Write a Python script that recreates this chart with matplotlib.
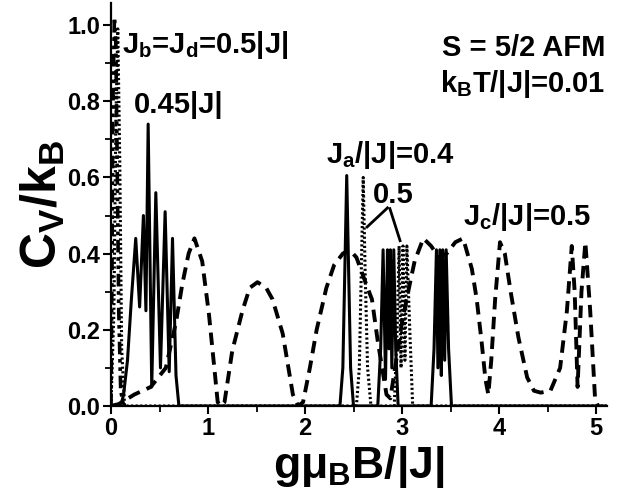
import matplotlib
matplotlib.use("Agg")
import matplotlib.pyplot as plt
from matplotlib.ticker import MultipleLocator, FormatStrFormatter

plt.rcParams['font.family'] = ['Liberation Sans', 'DejaVu Sans']
plt.rcParams['font.weight'] = 'bold'
plt.rcParams['mathtext.fontset'] = 'custom'
plt.rcParams['mathtext.rm'] = 'Liberation Sans:bold'
plt.rcParams['mathtext.it'] = 'Liberation Sans:bold'
plt.rcParams['mathtext.bf'] = 'Liberation Sans:bold'
plt.rcParams['mathtext.default'] = 'rm'

# ---- data ----
# solid: J_b=J_d=0.45|J| cluster and J_a/|J|=0.4 curve
solid_x = [0.00, 0.08, 0.11, 0.13, 0.17, 0.21, 0.255, 0.295, 0.334, 0.36, 0.383,
           0.42, 0.462, 0.51, 0.558, 0.60, 0.634, 0.67, 0.70,
           2.36, 2.39, 2.41, 2.43, 2.45, 2.47, 2.50,
           2.75, 2.78, 2.805, 2.83, 2.85, 2.865, 2.88, 2.895, 2.915, 2.935, 2.96,
           3.30, 3.33, 3.355, 3.37, 3.39, 3.405, 3.42, 3.44, 3.455, 3.48, 3.51, 5.11]
solid_y = [0.00, 0.00, 0.01, 0.03, 0.12, 0.28, 0.44, 0.26, 0.50, 0.25, 0.74,
           0.05, 0.56, 0.10, 0.51, 0.09, 0.44, 0.08, 0.00,
           0.00, 0.10, 0.35, 0.605, 0.35, 0.10, 0.00,
           0.00, 0.15, 0.41, 0.07, 0.41, 0.15, 0.41, 0.10, 0.41, 0.15, 0.00,
           0.00, 0.15, 0.41, 0.10, 0.41, 0.08, 0.41, 0.12, 0.41, 0.15, 0.00, 0.00]

# dotted: 0.5 curves
dot_x = [0.00, 0.03, 0.05, 0.07, 0.09, 0.11, 0.14,
         2.53, 2.56, 2.58, 2.60, 2.62, 2.645, 2.68,
         2.92, 2.95, 2.97, 2.99, 3.01, 3.03, 3.05, 3.08, 3.11, 5.11]
dot_y = [0.00, 0.25, 0.75, 0.99, 0.65, 0.15, 0.00,
         0.00, 0.10, 0.35, 0.60, 0.35, 0.10, 0.00,
         0.00, 0.20, 0.42, 0.10, 0.42, 0.12, 0.42, 0.20, 0.00, 0.00]

# dashed: J_c/|J|=0.5
dash_x = [0.00, 0.08, 0.24, 0.41, 0.565, 0.67, 0.735, 0.80, 0.86, 0.94, 1.01, 1.065, 1.10,
          1.13, 1.17, 1.25, 1.355, 1.43, 1.51, 1.60, 1.665, 1.77, 1.875, 1.93,
          1.98, 2.05, 2.12, 2.22, 2.30, 2.39, 2.46, 2.53, 2.63, 2.69, 2.75, 2.84, 2.88,
          2.94, 3.00, 3.08, 3.13, 3.22, 3.30, 3.38, 3.46, 3.55, 3.63, 3.72, 3.77, 3.82,
          3.86, 3.89, 3.92, 3.96, 4.01, 4.06, 4.12, 4.20, 4.29, 4.36, 4.43, 4.53, 4.63,
          4.70, 4.75, 4.78, 4.81, 4.85, 4.89, 4.94, 4.99, 5.02]
dash_y = [0.00, 0.005, 0.03, 0.05, 0.10, 0.22, 0.32, 0.40, 0.44, 0.38, 0.24, 0.10, 0.01,
          0.00, 0.01, 0.145, 0.25, 0.31, 0.325, 0.31, 0.28, 0.19, 0.03, 0.00,
          0.01, 0.10, 0.20, 0.31, 0.37, 0.40, 0.41, 0.39, 0.32, 0.28, 0.17, 0.03, 0.02,
          0.12, 0.22, 0.32, 0.38, 0.44, 0.42, 0.39, 0.40, 0.43, 0.44, 0.36, 0.28, 0.17,
          0.07, 0.03, 0.12, 0.28, 0.43, 0.40, 0.30, 0.18, 0.075, 0.04, 0.035, 0.04, 0.10,
          0.25, 0.42, 0.30, 0.05, 0.30, 0.43, 0.25, 0.02, 0.00]

# dash-dot: J_b=J_d=0.5|J|
dd_x = [0.00, 0.01, 0.02, 0.035, 0.05, 0.065, 0.08, 0.10, 0.13]
dd_y = [0.00, 0.35, 0.80, 1.02, 0.95, 0.60, 0.25, 0.04, 0.00]

x_ticks = [0, 1, 2, 3, 4, 5]
y_ticks = [0.0, 0.2, 0.4, 0.6, 0.8, 1.0]

fig = plt.figure(figsize=(6.30, 4.96), dpi=100)
ax = fig.add_axes([0.1762, 0.1815, 0.7868, 0.8125])

ax.plot(dash_x, dash_y, color='black', lw=2.8, linestyle=(0, (3.2, 1.9)))
ax.plot(dot_x, dot_y, color='black', lw=2.2, linestyle=(0, (0.7, 0.8)))
ax.plot(solid_x, solid_y, color='black', lw=2.2, linestyle='-')
ax.plot(dd_x, dd_y, color='black', lw=2.6, linestyle=(0, (3.5, 1.3, 1, 1.3, 1, 1.3)))

ax.set_xlim(0, 5.11)
ax.set_ylim(0, 1.058)
ax.set_xticks(x_ticks)
ax.set_yticks(y_ticks)
ax.xaxis.set_minor_locator(MultipleLocator(0.5))
ax.yaxis.set_minor_locator(MultipleLocator(0.1))
ax.yaxis.set_major_formatter(FormatStrFormatter('%.1f'))
ax.spines['top'].set_visible(False)
ax.spines['right'].set_visible(False)
for s in ['left', 'bottom']:
    ax.spines[s].set_linewidth(1.6)
ax.tick_params(which='major', direction='out', length=6, width=1.5, labelsize=17, pad=2)
ax.tick_params(which='minor', direction='out', length=4, width=1.3)
for lab in ax.get_xticklabels() + ax.get_yticklabels():
    lab.set_fontweight('bold')

ax.set_xlabel(r'g$\mathrm{\mu_B}$B/|J|', fontsize=32, fontweight='bold', labelpad=3)
ax.set_ylabel(r'C$_\mathrm{V}$/k$_\mathrm{B}$', fontsize=36, fontweight='bold', labelpad=0)

tk = dict(fontsize=21, fontweight='bold', color='black')
ax.text(0.115, 0.926, r'J$_\mathrm{b}$=J$_\mathrm{d}$=0.5|J|', ha='left', va='baseline', **tk)
ax.text(0.24, 0.768, '0.45|J|', ha='left', va='baseline', **tk)
ax.text(5.10, 0.92, 'S = 5/2 AFM', ha='right', va='baseline', **tk)
ax.text(5.10, 0.824, r'k$_\mathrm{B}$T/|J|=0.01', ha='right', va='baseline', **tk)
ax.text(2.22, 0.637, r'J$_\mathrm{a}$/|J|=0.4', ha='left', va='baseline', **tk)
ax.text(2.70, 0.534, '0.5', ha='left', va='baseline', **tk)
ax.text(3.63, 0.474, r'J$_\mathrm{c}$/|J|=0.5', ha='left', va='baseline', **tk)

ax.plot([2.85, 2.64], [0.52, 0.47], color='black', lw=2.0)
ax.plot([2.875, 2.98], [0.518, 0.434], color='black', lw=2.0)

fig.savefig('out.png', dpi=100)
